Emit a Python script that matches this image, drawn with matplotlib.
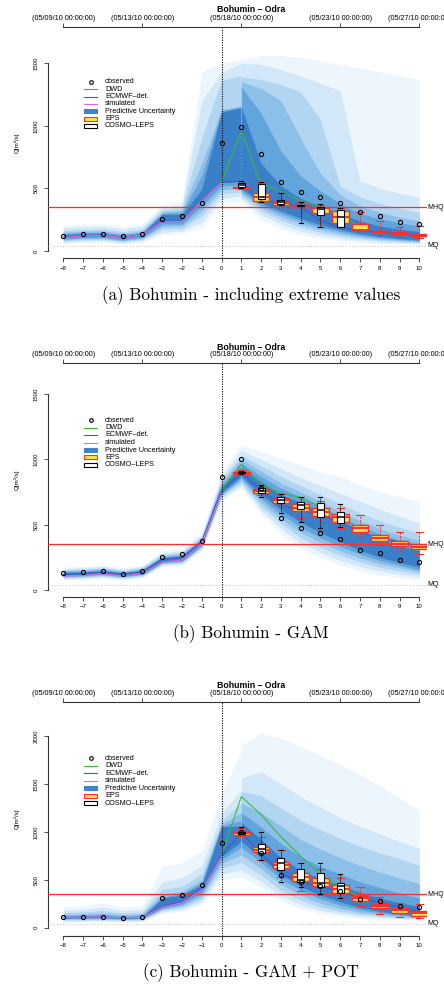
import matplotlib
matplotlib.use('Agg')
import matplotlib.pyplot as plt
from matplotlib.lines import Line2D
from matplotlib.patches import Rectangle

W, H, DPI = 444, 985, 100
plt.rcParams['font.family'] = ['Liberation Sans', 'DejaVu Sans']

# ---------------- data ----------------
days = list(range(-8, 11))
hind_days = list(range(-8, 2))
fc_days = list(range(1, 11))
sim_days = list(range(-8, 1))
dwd_days = list(range(0, 8))
eps_days = list(range(1, 11))
cosmo_days = list(range(1, 7))
top_tick_days = [-8, -4, 1, 6, 10]
top_tick_labels = ['(05/09/10 00:00:00)', '(05/13/10 00:00:00)', '(05/18/10 00:00:00)',
                   '(05/23/10 00:00:00)', '(05/27/10 00:00:00)']
title = 'Bohumin \u2013 Odra'
legend_labels = ['observed', 'DWD', 'ECMWF\u2013det.', 'simulated',
                 'Predictive Uncertainty', 'EPS', 'COSMO\u2013LEPS']
MHQ = 350
MQ = 40

# ---- panel (a) ----
a_caption = '(a) Bohumin - including extreme values'
a_yticks = [0, 500, 1000, 1500]
a_obs = [122, 133, 136, 117, 133, 253, 280, 381, 860, 990, 777, 551, 474, 431, 386, 309, 280, 229, 216]
a_sim = [105, 125, 125, 108, 130, 234, 234, 400, 546]
a_ecmwf = [108, 128, 128, 110, 132, 238, 238, 400, 550, 555, 402, 381, 354, 242, 189, 168, 149, 136, 122]
a_dwd = [550, 958, 541, 474, 400, 354, 290, 190]
a_hind_up = [
    [205, 215, 220, 195, 220, 370, 394, 1430, 1500, 1530],
    [185, 195, 198, 175, 198, 345, 370, 1200, 1430, 1500],
    [165, 172, 175, 155, 175, 325, 345, 900, 1366, 1400],
    [150, 158, 160, 140, 160, 310, 325, 700, 1130, 1160],
    [140, 148, 150, 130, 150, 300, 310, 600, 1120, 1150],
    [130, 140, 140, 120, 140, 292, 292, 495, 1110, 1145]]
a_hind_lo = [
    [60, 70, 72, 58, 72, 128, 140, 184, 383, 400],
    [70, 80, 82, 66, 82, 150, 160, 230, 420, 440],
    [80, 90, 92, 75, 92, 175, 180, 280, 460, 470],
    [88, 98, 100, 82, 100, 195, 200, 320, 490, 500],
    [95, 105, 108, 90, 108, 215, 215, 360, 520, 525],
    [103, 120, 122, 105, 125, 234, 234, 395, 546, 555]]
a_fc_up = [
    [1530, 1560, 1560, 1545, 1520, 1490, 1460, 1430, 1400, 1366],
    [1500, 1490, 1450, 1400, 1340, 1280, 560, 500, 460, 430],
    [1390, 1370, 1330, 1270, 1050, 520, 430, 380, 340, 310],
    [1350, 1300, 1200, 900, 620, 450, 360, 310, 270, 240],
    [1310, 1100, 800, 600, 480, 380, 300, 260, 225, 200],
    [1150, 700, 520, 420, 360, 300, 240, 200, 175, 155]]
a_fc_lo = [
    [400, 250, 180, 130, 100, 85, 70, 62, 58, 55],
    [420, 290, 215, 160, 125, 100, 85, 72, 65, 62],
    [440, 320, 245, 190, 150, 120, 100, 85, 75, 68],
    [460, 345, 275, 215, 170, 138, 112, 96, 84, 74],
    [480, 365, 300, 240, 190, 155, 125, 106, 92, 80],
    [500, 385, 320, 260, 210, 170, 138, 115, 100, 88]]
a_eps_q1 = [500, 402, 370, 355, 306, 226, 165, 150, 136, 122]
a_eps_med = [505, 434, 386, 362, 344, 274, 168, 155, 141, 128]
a_eps_q3 = [515, 466, 402, 370, 354, 322, 218, 160, 147, 134]
a_eps_lo = [495, 394, 365, 306, 194, 189, 160, 128, 109, 101]
a_eps_hi = [958, 553, 461, 394, 370, 341, 309, 240, 189, 200]
a_cos_q1 = [514, 413, 378, 358, 290, 194]
a_cos_med = [525, 434, 395, 362, 335, 274]
a_cos_q3 = [546, 535, 410, 366, 354, 327]
a_cos_lo = [505, 394, 370, 221, 194, 189]
a_cos_hi = [560, 553, 461, 394, 375, 345]

# ---- panel (b) ----
b_caption = '(b) Bohumin - GAM'
b_yticks = [0, 500, 1000, 1500]
b_obs = [132, 140, 148, 125, 143, 250, 275, 377, 867, 1000, 778, 553, 477, 434, 388, 306, 283, 232, 217]
b_sim = [107, 112, 125, 107, 128, 212, 230, 352, 740]
b_ecmwf = [120, 122, 135, 120, 140, 235, 247, 370, 765, 898, 765, 650, 612, 574, 523, 446, 396, 370, 337]
b_dwd = [765, 962, 811, 740, 709, 638, 536, 472]
b_hind_up = [
    [175, 180, 190, 170, 190, 300, 315, 440, 900, 1110],
    [165, 170, 180, 160, 180, 285, 300, 425, 870, 1070],
    [155, 160, 170, 150, 172, 272, 288, 410, 845, 1030],
    [148, 152, 162, 143, 164, 262, 278, 400, 825, 1000],
    [140, 145, 155, 136, 157, 254, 268, 392, 805, 970],
    [134, 138, 148, 130, 150, 246, 260, 384, 790, 940]]
b_hind_lo = [
    [75, 80, 90, 75, 92, 180, 190, 300, 680, 780],
    [85, 90, 100, 85, 100, 190, 200, 315, 700, 800],
    [92, 97, 107, 92, 108, 198, 208, 325, 715, 820],
    [100, 104, 114, 100, 115, 205, 215, 335, 725, 840],
    [106, 110, 120, 104, 120, 210, 222, 342, 735, 855],
    [112, 115, 125, 108, 125, 215, 228, 350, 745, 870]]
b_fc_up = [
    [1110, 1058, 1008, 957, 905, 867, 804, 752, 715, 676],
    [1070, 1000, 930, 860, 800, 740, 680, 620, 565, 510],
    [1030, 950, 870, 800, 730, 660, 590, 530, 480, 434],
    [1000, 910, 820, 750, 680, 600, 530, 470, 420, 380],
    [970, 870, 780, 710, 640, 560, 490, 430, 380, 330],
    [940, 830, 730, 670, 600, 520, 450, 390, 340, 300]]
b_fc_lo = [
    [780, 580, 430, 320, 250, 190, 145, 115, 95, 77],
    [800, 610, 470, 360, 290, 225, 180, 145, 120, 100],
    [820, 640, 510, 400, 330, 265, 215, 175, 145, 120],
    [840, 670, 545, 440, 365, 300, 245, 200, 170, 140],
    [855, 700, 580, 480, 400, 335, 275, 225, 190, 155],
    [870, 730, 615, 520, 440, 370, 305, 250, 210, 175]]
b_eps_q1 = [888, 745, 668, 607, 569, 523, 446, 377, 337, 311]
b_eps_med = [898, 758, 685, 630, 598, 555, 475, 400, 355, 332]
b_eps_q3 = [905, 771, 702, 658, 625, 582, 497, 421, 377, 352]
b_eps_lo = [880, 727, 650, 553, 510, 472, 408, 344, 298, 275]
b_eps_hi = [915, 804, 735, 714, 683, 625, 574, 497, 441, 441]
b_cos_q1 = [892, 740, 668, 618, 561, 515]
b_cos_med = [898, 760, 690, 650, 610, 560]
b_cos_q3 = [904, 778, 714, 676, 663, 599]
b_cos_lo = [888, 714, 587, 523, 472, 480]
b_cos_hi = [910, 804, 735, 714, 709, 658]

# ---- panel (c) ----
c_caption = '(c) Bohumin - GAM + POT'
c_yticks = [0, 500, 1000, 1500, 2000]
c_obs = [108, 112, 116, 104, 108, 307, 341, 442, 880, 995, 783, 555, 477, 435, 383, 303, 282, 230, 216]
c_sim = [108, 110, 112, 104, 108, 213, 261, 393, 741]
c_ecmwf = [108, 110, 112, 104, 108, 225, 275, 400, 760, 985, 776, 567, 480, 428, 376, 307, 261, 216, 167]
c_dwd = [760, 1367, 1180, 950, 745, 555, 430, 320]
c_hind_up = [
    [220, 225, 260, 215, 230, 640, 680, 800, 1400, 1840],
    [185, 190, 215, 180, 190, 480, 520, 650, 1200, 1437],
    [160, 165, 180, 155, 165, 400, 430, 560, 1120, 1300],
    [140, 145, 155, 135, 145, 350, 380, 500, 1080, 1200],
    [125, 130, 135, 120, 128, 320, 355, 470, 1060, 1120],
    [115, 118, 120, 110, 115, 308, 342, 445, 1054, 1060]]
c_hind_lo = [
    [60, 62, 65, 58, 62, 150, 170, 240, 500, 530],
    [70, 72, 75, 68, 72, 165, 190, 270, 560, 600],
    [80, 82, 85, 78, 82, 180, 210, 300, 620, 680],
    [88, 90, 93, 85, 90, 192, 228, 330, 670, 760],
    [95, 98, 100, 92, 97, 202, 245, 360, 710, 840],
    [100, 104, 106, 98, 104, 213, 261, 393, 741, 900]]
c_fc_up = [
    [1900, 2030, 1980, 1890, 1800, 1700, 1600, 1480, 1350, 1230],
    [1560, 1630, 1500, 1370, 1260, 1150, 1060, 980, 900, 830],
    [1420, 1380, 1250, 1120, 1020, 930, 850, 780, 720, 650],
    [1300, 1200, 1060, 920, 820, 730, 650, 580, 520, 460],
    [1200, 1050, 880, 740, 640, 560, 480, 420, 360, 310],
    [1100, 920, 730, 600, 510, 440, 370, 310, 260, 220]]
c_fc_lo = [
    [530, 420, 280, 200, 150, 120, 100, 90, 85, 80],
    [600, 480, 330, 240, 180, 145, 120, 105, 95, 88],
    [680, 550, 390, 290, 215, 170, 140, 120, 105, 96],
    [760, 620, 450, 340, 255, 200, 160, 138, 118, 105],
    [840, 680, 510, 390, 300, 235, 185, 155, 132, 115],
    [900, 730, 560, 430, 340, 270, 210, 170, 145, 125]]
c_eps_q1 = [970, 793, 620, 487, 435, 365, 282, 202, 157, 125]
c_eps_med = [985, 815, 655, 525, 470, 405, 305, 225, 180, 150]
c_eps_q3 = [998, 839, 689, 567, 515, 445, 331, 247, 202, 177]
c_eps_lo = [960, 706, 532, 386, 341, 307, 226, 143, 108, 98]
c_eps_hi = [1037, 949, 811, 678, 609, 515, 428, 317, 254, 244]
c_cos_q1 = [982, 776, 602, 480, 428, 365]
c_cos_med = [990, 820, 670, 500, 470, 430]
c_cos_q3 = [998, 873, 724, 609, 574, 470]
c_cos_lo = [975, 706, 480, 428, 352, 307]
c_cos_hi = [1047, 1002, 811, 678, 672, 557]

# ---------------- style ----------------
fan_colors = ['#edf6fc', '#d2e8f8', '#b2d6f1', '#8cc0e9', '#62a5dc', '#3a80c8']
c_green = '#3cb83c'
c_blue = '#3b5cc4'
c_pink = '#dc6ad8'
c_red = '#ff2d2d'
c_yellow = '#f7e64a'
axis_col = '#333333'

panels = [
    dict(obs=a_obs, sim=a_sim, ecm=a_ecmwf, dwd=a_dwd, hu=a_hind_up, hl=a_hind_lo,
         fu=a_fc_up, fl=a_fc_lo,
         eps=(a_eps_q1, a_eps_med, a_eps_q3, a_eps_lo, a_eps_hi),
         cos=(a_cos_q1, a_cos_med, a_cos_q3, a_cos_lo, a_cos_hi),
         yticks=a_yticks, caption=a_caption,
         top=27.5, bottom=258.3, ylim=(-58.3, 1785), title_y=9.5, leg_y=82, leg_dy=7.33, cap_y=296),
    dict(obs=b_obs, sim=b_sim, ecm=b_ecmwf, dwd=b_dwd, hu=b_hind_up, hl=b_hind_lo,
         fu=b_fc_up, fl=b_fc_lo,
         eps=(b_eps_q1, b_eps_med, b_eps_q3, b_eps_lo, b_eps_hi),
         cos=(b_cos_q1, b_cos_med, b_cos_q3, b_cos_lo, b_cos_hi),
         yticks=b_yticks, caption=b_caption,
         top=363.3, bottom=596.7, ylim=(-51.3, 1735), title_y=348.0, leg_y=420, leg_dy=7.5, cap_y=634),
    dict(obs=c_obs, sim=c_sim, ecm=c_ecmwf, dwd=c_dwd, hu=c_hind_up, hl=c_hind_lo,
         fu=c_fc_up, fl=c_fc_lo,
         eps=(c_eps_q1, c_eps_med, c_eps_q3, c_eps_lo, c_eps_hi),
         cos=(c_cos_q1, c_cos_med, c_cos_q3, c_cos_lo, c_cos_hi),
         yticks=c_yticks, caption=c_caption,
         top=702.3, bottom=935.7, ylim=(-83.5, 2352), title_y=686, leg_y=758.3, leg_dy=7.5, cap_y=973),
]

fig = plt.figure(figsize=(W / DPI, H / DPI), dpi=DPI)


def fx(x):
    return x / W


def fy(y):
    return 1 - y / H


def stats(q1, med, q3, lo, hi):
    return [dict(q1=a, med=b, q3=c, whislo=d, whishi=e, fliers=[])
            for a, b, c, d, e in zip(q1, med, q3, lo, hi)]


XL, XR = 48, 427
for p in panels:
    ax = fig.add_axes([fx(XL), fy(p['bottom']), (XR - XL) / W, (p['bottom'] - p['top']) / H])
    ax.set_xlim(-8.774, 10.389)
    ax.set_ylim(*p['ylim'])
    for s in ['top', 'right']:
        ax.spines[s].set_visible(False)
    ax.spines['left'].set_bounds(0, p['yticks'][-1])
    ax.spines['bottom'].set_bounds(-8, 10)
    for s in ['left', 'bottom']:
        ax.spines[s].set_linewidth(0.8)
        ax.spines[s].set_color(axis_col)
    ax.set_xticks(days)
    ax.set_xticklabels([str(d).replace('-', '\u2212') for d in days])
    ax.tick_params(axis='x', length=3, width=0.6, labelsize=4.3, pad=2.5, color=axis_col)
    ax.set_yticks(p['yticks'])
    ax.set_yticklabels([str(v) for v in p['yticks']], rotation=90, va='center')
    ax.tick_params(axis='y', length=3, width=0.6, labelsize=4.3, pad=3.5, color=axis_col)

    # predictive uncertainty fans
    for col, lo, up in zip(fan_colors, p['hl'], p['hu']):
        ax.fill_between(hind_days, lo, up, color=col, lw=0, zorder=1)
    for col, lo, up in zip(fan_colors, p['fl'], p['fu']):
        ax.fill_between(fc_days, lo, up, color=col, lw=0, zorder=1)

    ax.axhline(MHQ, color=c_red, lw=0.9, zorder=3)
    ax.axhline(MQ, color='#aaaaaa', lw=0.6, ls=(0, (1, 2.5)), zorder=3)
    tr = ax.get_yaxis_transform()
    ax.text(1.0, MHQ, 'MHQ', transform=tr, fontsize=5, ha='left', va='center', clip_on=False)
    ax.text(1.0, MQ, 'MQ', transform=tr, fontsize=5, ha='left', va='center', clip_on=False)

    ax.plot(days, p['ecm'], color=c_blue, lw=0.8, zorder=4)
    ax.plot(sim_days, p['sim'], color=c_pink, lw=0.9, zorder=4)
    ax.plot(dwd_days, p['dwd'], color=c_green, lw=0.8, zorder=4)

    ax.axvline(0, color='black', lw=0.8, ls=(0, (1, 1.2)), zorder=6)

    ax.bxp(stats(*p['eps']), positions=eps_days, widths=0.84, capwidths=0.37,
           patch_artist=True, showfliers=False, manage_ticks=False, zorder=5,
           boxprops=dict(facecolor=c_yellow, edgecolor=c_red, linewidth=1.0),
           medianprops=dict(color=c_red, linewidth=1.4),
           whiskerprops=dict(color=c_red, linewidth=0.7, linestyle=(0, (2, 1.5))),
           capprops=dict(color=c_red, linewidth=0.8))
    ax.bxp(stats(*p['cos']), positions=cosmo_days, widths=0.36, capwidths=0.2,
           patch_artist=True, showfliers=False, manage_ticks=False, zorder=6,
           boxprops=dict(facecolor='white', edgecolor='black', linewidth=0.8),
           medianprops=dict(color='black', linewidth=1.1),
           whiskerprops=dict(color='black', linewidth=0.7, linestyle=(0, (1, 1))),
           capprops=dict(color='black', linewidth=0.8))

    ax.plot(days, p['obs'], 'o', mfc='none', mec='black', ms=3, mew=0.8, zorder=8)

    # top date axis
    ax2 = ax.twiny()
    ax2.set_xlim(ax.get_xlim())
    for s in ['left', 'right', 'bottom']:
        ax2.spines[s].set_visible(False)
    ax2.spines['top'].set_bounds(-8, 10)
    ax2.spines['top'].set_linewidth(0.8)
    ax2.spines['top'].set_color(axis_col)
    ax2.set_xticks(top_tick_days)
    ax2.set_xticklabels(top_tick_labels)
    ax2.tick_params(axis='x', length=3, width=0.6, labelsize=5.2, pad=0.6, color=axis_col)

    fig.text(fx(251), fy(p['title_y']), title, fontsize=6.3, fontweight='bold',
             ha='center', va='center')
    fig.text(fx(17), fy((p['top'] + p['bottom']) / 2), 'Q[m\u00b3/s]', rotation=90,
             fontsize=4.5, ha='center', va='center')
    fig.text(fx(251), fy(p['cap_y']), p['caption'], family='cmr10', fontsize=12.3,
             ha='center', va='center')

    # legend
    y0, dy = p['leg_y'], p['leg_dy']
    tf = fig.transFigure
    for i, lab in enumerate(legend_labels):
        y = y0 + i * dy
        if i == 0:
            fig.add_artist(Line2D([fx(90.7)], [fy(y)], marker='o', mfc='none', mec='black',
                                  ms=2.6, mew=0.8, transform=tf))
        elif i in (1, 2, 3):
            col = [None, c_green, c_blue, c_pink][i]
            fig.add_artist(Line2D([fx(84), fx(97)], [fy(y), fy(y)], color=col, lw=0.8,
                                  transform=tf))
        else:
            fc, ec = [('#3d86cc', '#3d86cc'), (c_yellow, c_red), ('white', 'black')][i - 4]
            fig.add_artist(Rectangle((fx(84), fy(y + 2)), 13 / W, 4 / H, facecolor=fc,
                                     edgecolor=ec, lw=0.8, transform=tf))
        fig.text(fx(105), fy(y), lab, fontsize=5.2, ha='left', va='center')

fig.savefig('out.png', dpi=DPI)
